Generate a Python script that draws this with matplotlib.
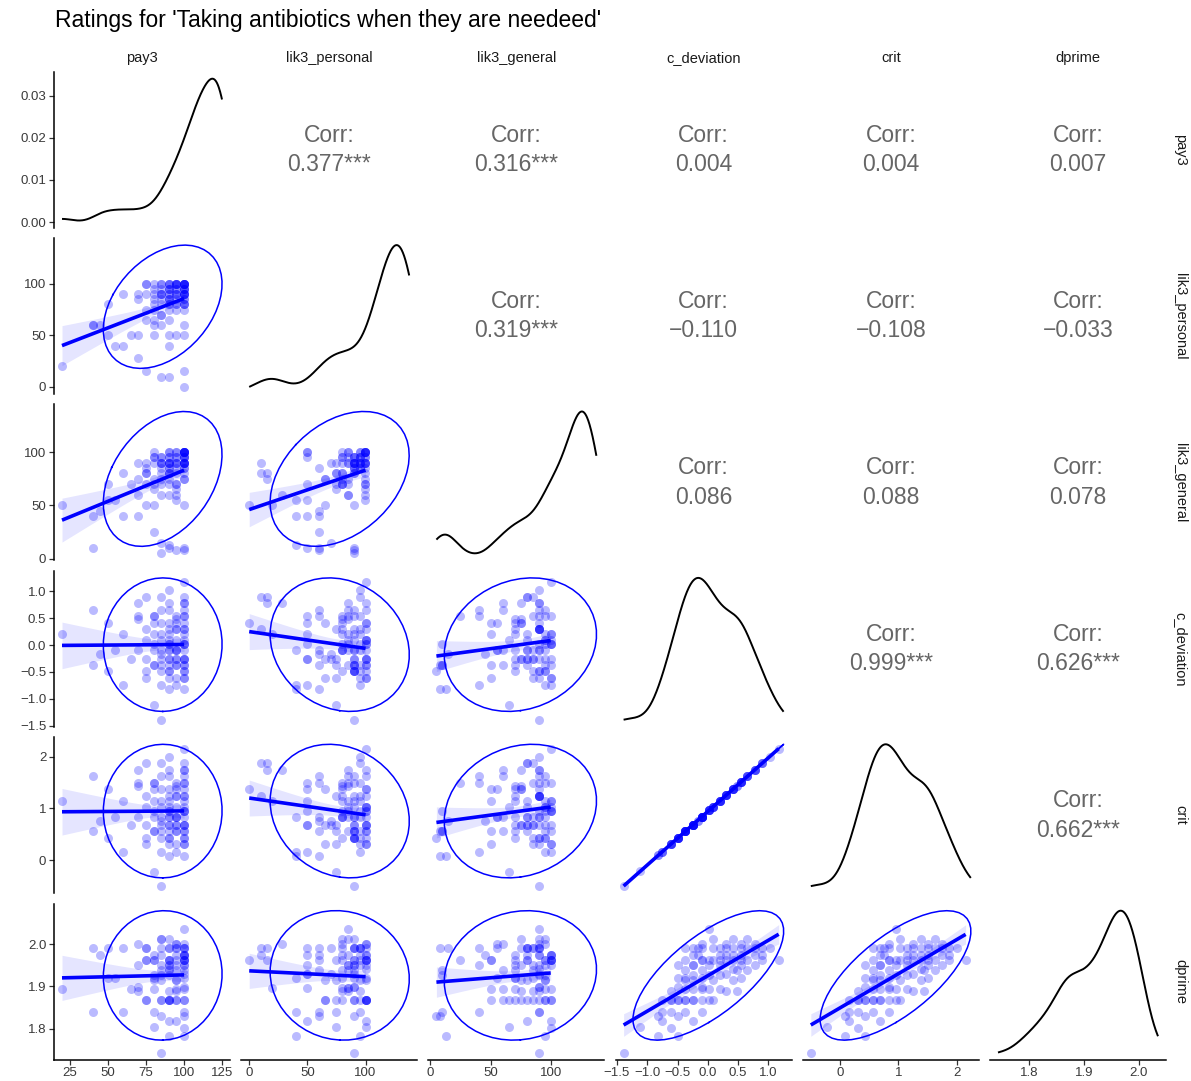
import numpy as np
import matplotlib
matplotlib.use('Agg')
import matplotlib.pyplot as plt
import matplotlib.ticker as ticker

plt.rcParams['font.family'] = ['Liberation Sans', 'DejaVu Sans']

# ---------------------------------------------------------------
# Ratings per participant (one entry per participant, same order)
# ---------------------------------------------------------------
pay3 = [20, 40, 40, 45, 50, 50, 55, 60, 60, 65,
        70, 70, 70, 70, 75, 75, 75, 75, 75, 75,
        80, 80, 80, 80, 80, 80, 80, 80, 80, 85,
        85, 85, 85, 85, 85, 85, 85, 85, 85, 85,
        85, 90, 90, 90, 90, 90, 90, 90, 90, 90,
        90, 90, 90, 90, 90, 90, 90, 90, 90, 95,
        95, 95, 95, 95, 95, 95, 95, 95, 95, 95,
        95, 95, 95, 95, 100, 100, 100, 100, 100, 100,
        100, 100, 100, 100, 100, 100, 100, 100, 100, 100,
        100, 100, 100, 100, 100, 100, 100, 100, 100, 100]

lik3_personal = [20, 60, 60, 60, 80, 50, 40, 40, 90, 50,
                 90, 85, 28, 50, 15, 65, 75, 100, 100, 90,
                 90, 60, 80, 85, 65, 95, 75, 50, 100, 90,
                 70, 10, 80, 60, 95, 85, 70, 100, 100, 90,
                 90, 80, 95, 10, 65, 95, 85, 75, 85, 50,
                 90, 100, 80, 40, 95, 100, 85, 100, 90, 100,
                 90, 50, 80, 90, 100, 80, 95, 95, 85, 100,
                 100, 75, 90, 100, 100, 100, 95, 90, 0, 15,
                 60, 80, 90, 100, 85, 95, 90, 80, 100, 90,
                 50, 95, 100, 90, 80, 100, 75, 95, 100, 85]

lik3_general = [50, 10, 40, 45, 70, 55, 55, 40, 80, 70,
                90, 75, 60, 40, 80, 50, 70, 85, 90, 80,
                50, 25, 95, 100, 75, 90, 65, 95, 70, 90,
                15, 80, 75, 85, 95, 70, 90, 60, 95, 90,
                5, 80, 85, 90, 75, 90, 95, 80, 60, 10,
                85, 90, 70, 13, 100, 80, 90, 100, 95, 70,
                95, 100, 90, 85, 55, 70, 95, 90, 60, 100,
                90, 80, 8, 65, 100, 95, 100, 90, 50, 75,
                8, 100, 95, 90, 90, 95, 85, 80, 100, 90,
                100, 85, 100, 10, 95, 100, 90, 90, 75, 100]

c_deviation = [0.20, -0.37, 0.65, -0.17, -0.49, 0.42, -0.10, -0.75, 0.20, -0.25,
               -0.10, 0.48, 0.78, 0.54, 0.90, -0.61, 0.30, -0.25, -0.49, 0.09,
               -0.37, 0.54, 0.02, 0.54, 0.42, -0.10, -1.12, 0.20, -0.37, 0.65,
               -0.17, 0.90, 0.42, -0.10, -0.75, 0.20, -0.25, -0.37, 0.09, -1.39,
               -0.49, -0.10, -0.61, 0.30, -0.25, 1.02, 0.09, -0.37, 0.65, 0.02,
               -0.49, 0.42, -0.10, -0.82, 0.20, -0.25, 0.78, 0.02, -0.49, 0.42,
               -0.10, -0.75, 0.30, -0.25, -0.10, 0.48, -0.37, 0.54, -0.10, -0.61,
               0.30, -0.25, -0.37, 0.09, 1.17, 0.65, 0.02, -0.49, 0.42, 0.78,
               -0.82, 0.20, -0.25, 0.78, 0.02, -0.49, 0.54, -0.10, -0.61, 0.30,
               -0.25, 0.90, 0.09, -0.37, 0.54, 0.02, -0.61, 0.30, -0.25, -0.37]

crit = [1.15, 0.56, 1.62, 0.76, 0.43, 1.38, 0.84, 0.16, 1.15, 0.68,
        0.84, 1.44, 1.75, 1.50, 1.87, 0.31, 1.25, 0.68, 0.43, 1.03,
        0.56, 1.50, 0.96, 1.50, 1.38, 0.84, -0.22, 1.15, 0.56, 1.62,
        0.76, 1.87, 1.38, 0.84, 0.16, 1.15, 0.68, 0.56, 1.03, -0.50,
        0.43, 0.84, 0.31, 1.25, 0.68, 2.00, 1.03, 0.56, 1.62, 0.96,
        0.43, 1.38, 0.84, 0.09, 1.15, 0.68, 1.75, 0.96, 0.43, 1.38,
        0.84, 0.16, 1.25, 0.68, 0.84, 1.44, 0.56, 1.50, 0.84, 0.31,
        1.25, 0.68, 0.56, 1.03, 2.15, 1.62, 0.96, 0.43, 1.38, 1.75,
        0.09, 1.15, 0.68, 1.75, 0.96, 0.43, 1.50, 0.84, 0.31, 1.25,
        0.68, 1.87, 1.03, 0.56, 1.50, 0.96, 0.31, 1.25, 0.68, 0.56]

dprime = [1.895, 1.84, 1.99, 1.973, 1.92, 1.99, 1.92, 1.84, 1.99, 1.895,
          1.898, 1.89, 2.0, 1.95, 1.962, 1.867, 1.962, 1.99, 1.867, 1.99,
          1.962, 1.962, 1.895, 1.973, 1.916, 1.84, 1.805, 1.928, 1.92, 2.011,
          1.99, 1.973, 2.011, 1.939, 1.867, 1.95, 1.928, 1.867, 1.916, 1.744,
          1.83, 1.962, 1.89, 1.99, 1.867, 1.99, 2.011, 1.867, 1.939, 1.928,
          1.867, 1.94, 1.867, 1.784, 1.962, 1.818, 1.95, 1.962, 1.95, 1.973,
          1.962, 1.818, 1.89, 1.95, 2.0, 1.939, 1.916, 1.99, 1.895, 1.867,
          2.0, 1.916, 1.99, 1.867, 1.962, 1.962, 1.95, 1.898, 1.962, 1.99,
          1.83, 1.973, 1.867, 1.973, 2.035, 1.784, 1.92, 1.99, 1.803, 1.93,
          1.973, 1.99, 1.962, 1.939, 2.0, 1.867, 1.84, 1.973, 1.95, 1.895]

var_names = ['pay3', 'lik3_personal', 'lik3_general', 'c_deviation', 'crit', 'dprime']

# upper-triangle correlations, row by row
corr_r = [0.377, 0.316, 0.004, 0.004, 0.007,
          0.319, -0.110, -0.108, -0.033,
          0.086, 0.088, 0.078,
          0.999, 0.626,
          0.662]
corr_stars = ['***', '***', '', '', '',
              '***', '', '', '',
              '', '', '',
              '***', '***',
              '***']

title = "Ratings for 'Taking antibiotics when they are needeed'"

data = [np.asarray(v, dtype=float) for v in
        (pay3, lik3_personal, lik3_general, c_deviation, crit, dprime)]
n_var = len(var_names)

# tick spacing / label format for the outer axes
row_step = [0.01, 50, 50, 0.5, 1, 0.1]
row_fmt = ['%.2f', '%d', '%d', '%.1f', '%d', '%.1f']
col_step = [25, 50, 50, 0.5, 1, 0.1]
col_fmt = ['%d', '%d', '%d', '%.1f', '%d', '%.1f']

BLUE = '#0000FF'
TICK_COL = '#3a3a3a'


def density_curve(v, n=512):
    # gaussian kernel, bw.nrd0 rule
    q75, q25 = np.percentile(v, [75, 25])
    bw = 0.9 * min(v.std(ddof=1), (q75 - q25) / 1.34) * len(v) ** -0.2
    grid = np.linspace(v.min(), v.max(), n)
    z = (grid[:, None] - v[None, :]) / bw
    dens = np.exp(-0.5 * z ** 2).sum(axis=1) / (len(v) * bw * np.sqrt(2 * np.pi))
    return grid, dens


def ellipse_path(x, y, level=0.95, segments=51):
    center = np.array([x.mean(), y.mean()])
    shape = np.cov(x, y)
    dfd = len(x) - 1
    # F(2, dfd) quantile has a closed form
    fq = dfd / 2.0 * ((1 - level) ** (-2.0 / dfd) - 1)
    radius = np.sqrt(2 * fq)
    lam, vec = np.linalg.eigh(shape)
    lam = np.clip(lam, 0, None)
    t = np.linspace(0, 2 * np.pi, segments)
    circ = np.column_stack([np.cos(t), np.sin(t)])
    pts = center + radius * circ @ (vec * np.sqrt(lam)).T
    return pts[:, 0], pts[:, 1]


def lm_band(x, y, n=80, tcrit=1.984):
    b, a = np.polyfit(x, y, 1)
    resid = y - (a + b * x)
    s = np.sqrt((resid ** 2).sum() / (len(x) - 2))
    xg = np.linspace(x.min(), x.max(), n)
    sxx = ((x - x.mean()) ** 2).sum()
    se = s * np.sqrt(1.0 / len(x) + (xg - x.mean()) ** 2 / sxx)
    yg = a + b * xg
    return xg, yg, yg - tcrit * se, yg + tcrit * se


def make_formatter(fmt):
    def f(v, pos):
        if abs(v) < 1e-9:
            v = 0.0
        return (fmt % v).replace('-', '\u2212')
    return ticker.FuncFormatter(f)


W, H = 1191, 1081
fig = plt.figure(figsize=(W / 100, H / 100), dpi=100)
fig.patch.set_facecolor('white')

pw, ph = 176, 156
col_x = [54 + 187.2 * j for j in range(n_var)]
row_y = [71.6 + 166.4 * i for i in range(n_var)]

k = 0
for i in range(n_var):
    for j in range(n_var):
        ax = fig.add_axes([col_x[j] / W, 1 - (row_y[i] + ph) / H, pw / W, ph / H])
        ax.set_facecolor('white')
        for s in ax.spines.values():
            s.set_visible(False)
        ax.tick_params(left=False, bottom=False, labelleft=False, labelbottom=False)

        if i < j:
            # correlation text
            txt = f'{corr_r[k]:.3f}'.replace('-', '\u2212') + corr_stars[k]
            k += 1
            ax.text(0.5, 0.593, 'Corr:', ha='center', va='center', fontsize=16.5,
                    color='#666666', transform=ax.transAxes)
            ax.text(0.5, 0.405, txt, ha='center', va='center', fontsize=16.5,
                    color='#666666', transform=ax.transAxes)
            ax.set_xticks([])
            ax.set_yticks([])
            continue

        if i == j:
            gx, gy = density_curve(data[i])
            ax.plot(gx, gy, color='black', lw=1.4, solid_capstyle='butt')
        else:
            x, y = data[j], data[i]
            ax.scatter(x, y, s=42, color=BLUE, alpha=0.27, linewidths=0, zorder=2)
            xg, yg, lo, hi = lm_band(x, y)
            ax.fill_between(xg, lo, hi, color=BLUE, alpha=0.1, linewidth=0, zorder=3)
            ax.plot(xg, yg, color=BLUE, lw=2.6, zorder=4, solid_capstyle='butt')
            ex, ey = ellipse_path(x, y)
            ax.plot(ex, ey, color=BLUE, lw=1.1, zorder=5)

        ax.margins(0.05)

        if j == 0:
            ax.spines['left'].set_visible(True)
            ax.spines['left'].set_linewidth(1.1)
            ax.spines['left'].set_color('black')
            ax.tick_params(left=True, labelleft=True, direction='out', length=3.5,
                           width=0.9, color='#333333', labelsize=9.5, labelcolor=TICK_COL, pad=2)
            ax.yaxis.set_major_locator(ticker.MultipleLocator(row_step[i]))
            ax.yaxis.set_major_formatter(make_formatter(row_fmt[i]))
        if i == n_var - 1:
            ax.spines['bottom'].set_visible(True)
            ax.spines['bottom'].set_linewidth(1.1)
            ax.spines['bottom'].set_color('black')
            ax.tick_params(bottom=True, labelbottom=True, direction='out', length=3.5,
                           width=0.9, color='#333333', labelsize=9.5, labelcolor=TICK_COL, pad=2)
            ax.xaxis.set_major_locator(ticker.MultipleLocator(col_step[j]))
            ax.xaxis.set_major_formatter(make_formatter(col_fmt[j]))

# strip labels
for j, name in enumerate(var_names):
    fig.text((col_x[j] + pw / 2) / W, 1 - 58 / H, name, ha='center', va='center',
             fontsize=10.5, color='#1a1a1a')
for i, name in enumerate(var_names):
    fig.text(1180 / W, 1 - (row_y[i] + ph / 2) / H, name, ha='center', va='center',
             rotation=270, fontsize=10.5, color='#1a1a1a')

fig.text(55 / W, 1 - 20 / H, title, ha='left', va='center', fontsize=16.5, color='black')

fig.savefig('out.png', dpi=100)
